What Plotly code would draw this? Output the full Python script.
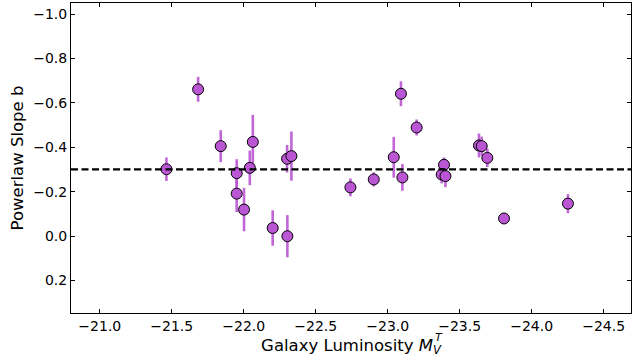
import plotly.graph_objects as go

# Galaxy absolute V magnitude (total) and fitted power-law slope with 1-sigma errors
luminosity = [-21.463, -21.683, -21.840, -21.951, -21.951, -22.002, -22.042, -22.063,
              -22.201, -22.301, -22.331, -22.303, -22.741, -22.903, -23.042, -23.092,
              -23.102, -23.201, -23.391, -23.375, -23.401, -23.634, -23.653, -23.692,
              -23.808, -24.252]
slope = [-0.301, -0.661, -0.405, -0.283, -0.191, -0.119, -0.307, -0.424,
         -0.036, -0.348, -0.360, 0.001, -0.219, -0.255, -0.355, -0.641,
         -0.264, -0.489, -0.321, -0.277, -0.270, -0.408, -0.405, -0.352,
         -0.079, -0.146]
slope_err = [0.053, 0.056, 0.072, 0.063, 0.083, 0.098, 0.078, 0.122,
             0.080, 0.062, 0.111, 0.095, 0.040, 0.032, 0.092, 0.056,
             0.060, 0.036, 0.033, 0.040, 0.050, 0.054, 0.043, 0.041,
             0.024, 0.043]
mean_slope = -0.3

x_ticks = [-21.0, -21.5, -22.0, -22.5, -23.0, -23.5, -24.0, -24.5]
y_ticks = [-1.0, -0.8, -0.6, -0.4, -0.2, 0.0, 0.2]

fig = go.Figure()

fig.add_trace(go.Scatter(
    x=luminosity, y=slope, mode="markers",
    marker=dict(size=11, color="#BA55D3", line=dict(color="black", width=1)),
    error_y=dict(type="data", array=slope_err, visible=True,
                 color="rgba(186,85,211,0.9)", thickness=2.6, width=0),
    showlegend=False,
))

fig.add_hline(y=mean_slope, line=dict(color="black", width=2.2, dash="7px,3.5px"))

axis_common = dict(
    showline=True, linecolor="black", linewidth=1, mirror="allticks",
    ticks="inside", ticklen=4, tickwidth=1, tickcolor="black",
    showgrid=False, zeroline=False,
    tickfont=dict(family="DejaVu Sans", size=14, color="black"),
)

fig.update_xaxes(
    range=[-20.8, -24.69], tickvals=x_ticks,
    ticktext=[f"{v:.1f}".replace("-", "\u2212") for v in x_ticks],
    title=dict(text="Galaxy Luminosity <i>M</i><sub><i>V</i></sub>",
               font=dict(family="DejaVu Sans", size=16.5, color="black"), standoff=6),
    **axis_common,
)
fig.update_yaxes(
    range=[0.347, -1.05], tickvals=y_ticks,
    ticktext=[f"{v:.1f}".replace("-", "\u2212") for v in y_ticks],
    title=dict(text="Powerlaw Slope b",
               font=dict(family="DejaVu Sans", size=16.5, color="black"), standoff=5),
    **axis_common,
)

# superscript T stacked over the V subscript of the x-axis label
fig.add_annotation(text="<i>T</i>", xref="paper", yref="paper", x=0.648, y=-0.078,
                   showarrow=False, font=dict(family="DejaVu Sans", size=11, color="black"),
                   xanchor="left", yanchor="middle", borderpad=0)

fig.update_layout(
    width=632, height=358,
    margin=dict(l=71, r=1, t=3, b=45),
    paper_bgcolor="white", plot_bgcolor="white",
)

fig.write_html("out.html")
